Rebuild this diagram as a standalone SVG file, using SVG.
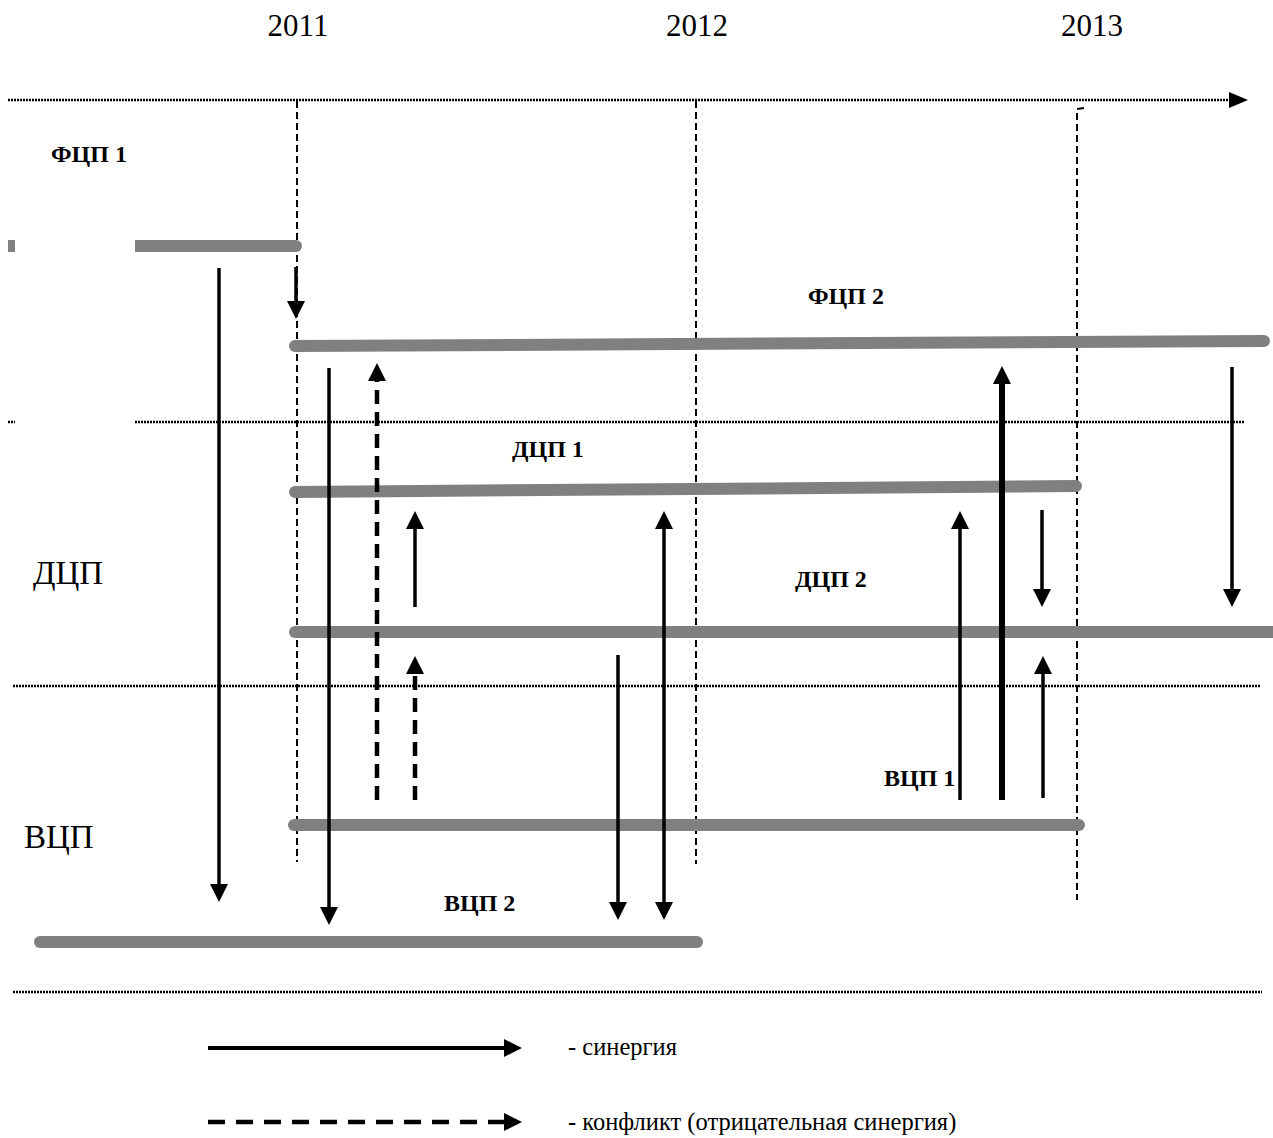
<svg xmlns="http://www.w3.org/2000/svg" width="1273" height="1138" viewBox="0 0 1273 1138">
<style>
.bg{fill:#ffffff}
.yr{font-family:"Liberation Serif",serif;font-size:31px;fill:#000}
.lb{font-family:"Liberation Serif",serif;font-size:24px;font-weight:bold;fill:#000}
.big{font-family:"Liberation Serif",serif;font-size:33px;fill:#000}
.lg{font-family:"Liberation Serif",serif;font-size:24.5px;fill:#000}
.bar{stroke:#808080;stroke-width:12;stroke-linecap:round;fill:none}
.barsq{stroke:#808080;stroke-width:12;stroke-linecap:butt;fill:none}
.dot{stroke:#000;stroke-width:2.5;stroke-dasharray:2 1;fill:none}
.vd{stroke:#000;stroke-width:2;stroke-dasharray:7 4;fill:none}
.sa{stroke:#000;stroke-width:3.5;fill:none;marker-end:url(#ah)}
.da{stroke:#000;stroke-width:4.5;stroke-dasharray:14 8;fill:none;marker-end:url(#ah)}
</style>
<defs>
<marker id="ah" markerUnits="userSpaceOnUse" markerWidth="20" markerHeight="20" refX="4" refY="9" orient="auto" overflow="visible">
<path d="M0,0 L18,9 L0,18 z" fill="#000"/>
</marker>
<marker id="ahs" markerUnits="userSpaceOnUse" markerWidth="20" markerHeight="20" refX="4" refY="9" orient="auto-start-reverse" overflow="visible">
<path d="M0,0 L18,9 L0,18 z" fill="#000"/>
</marker>
</defs>
<rect class="bg" x="0" y="0" width="1273" height="1138"/>

<g id="axis">
<text class="yr" x="298" y="36" text-anchor="middle">2011</text>
<text class="yr" x="697" y="36" text-anchor="middle">2012</text>
<text class="yr" x="1092" y="36" text-anchor="middle">2013</text>
<line class="dot" x1="8" y1="100" x2="1230" y2="100"/>
<path d="M1229,92 L1248,100 L1229,108 z" fill="#000"/>
<line class="vd" x1="297" y1="101" x2="297" y2="862"/>
<line class="vd" x1="696" y1="101" x2="696" y2="864"/>
<path class="vd" d="M1084,108 L1077,109 L1077,900"/>
</g>

<g id="separators">
<line class="dot" x1="8" y1="422" x2="15" y2="422"/>
<line class="dot" x1="135" y1="422" x2="1245" y2="422"/>
<line class="dot" x1="13" y1="686" x2="1260" y2="686"/>
<line class="dot" x1="13" y1="992" x2="1262" y2="992"/>
</g>

<g id="level-labels">
<text class="big" x="33" y="584">ДЦП</text>
<text class="big" x="24" y="848">ВЦП</text>
</g>

<g id="fcp1">
<line class="barsq" x1="8" y1="246" x2="15" y2="246"/>
<line class="barsq" x1="135" y1="246" x2="296" y2="246"/>
<circle cx="296" cy="246" r="6" fill="#808080"/>
<text class="lb" x="51" y="162">ФЦП 1</text>
</g>

<g id="fcp2">
<line class="bar" x1="295" y1="346" x2="1264" y2="341"/>
<text class="lb" x="808" y="304">ФЦП 2</text>
</g>

<g id="dcp1">
<line class="bar" x1="295" y1="492" x2="1076" y2="486"/>
<text class="lb" x="512" y="457">ДЦП 1</text>
</g>

<g id="dcp2">
<line class="bar" x1="295" y1="632" x2="1285" y2="632"/>
<text class="lb" x="795" y="587">ДЦП 2</text>
</g>

<g id="vcp1">
<line class="bar" x1="294" y1="825" x2="1079" y2="825"/>
<text class="lb" x="884" y="786">ВЦП 1</text>
</g>

<g id="vcp2">
<line class="bar" x1="40" y1="942" x2="697" y2="942"/>
<text class="lb" x="444" y="911">ВЦП 2</text>
</g>

<g id="connectors">
<line class="sa" x1="219" y1="268" x2="219" y2="888"/>
<line class="sa" x1="296" y1="267" x2="296" y2="305"/>
<line class="sa" x1="329" y1="368" x2="329" y2="911"/>
<line class="da" x1="377" y1="800" x2="377" y2="377"/>
<line class="sa" x1="415" y1="607" x2="415" y2="525"/>
<line class="da" x1="415" y1="800" x2="415" y2="670"/>
<line class="sa" x1="618" y1="655" x2="618" y2="906"/>
<line class="sa" x1="664" y1="525" x2="664" y2="906" style="marker-start:url(#ahs)"/>
<line class="sa" x1="960" y1="800" x2="960" y2="525"/>
<line class="sa" x1="1002" y1="800" x2="1002" y2="380" style="stroke-width:6"/>
<line class="sa" x1="1042" y1="510" x2="1042" y2="593"/>
<line class="sa" x1="1043" y1="798" x2="1043" y2="670"/>
<line class="sa" x1="1232" y1="367" x2="1232" y2="593"/>
</g>

<g id="legend">
<line class="sa" x1="208" y1="1048" x2="508" y2="1048" style="stroke-width:4"/>
<line class="da" x1="208" y1="1122" x2="508" y2="1122" style="stroke-dasharray:17 11"/>
<text class="lg" x="568" y="1055">- синергия</text>
<text class="lg" x="568" y="1130">- конфликт (отрицательная синергия)</text>
</g>
</svg>
